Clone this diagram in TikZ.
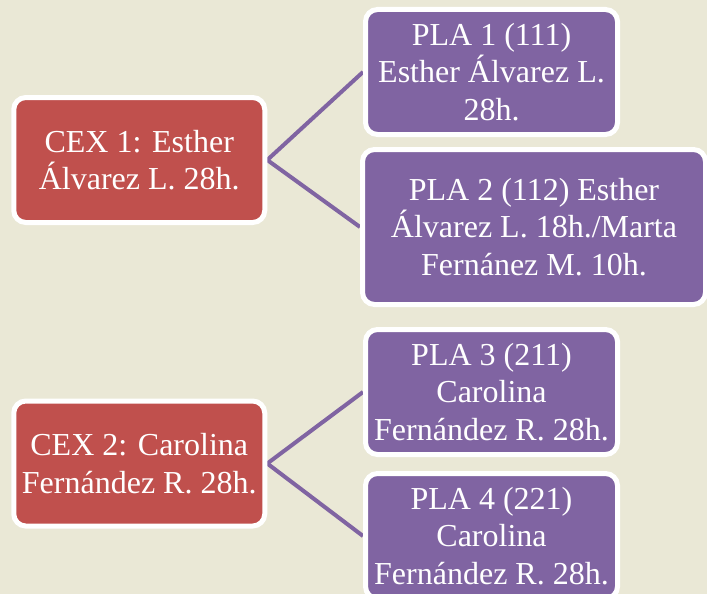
\documentclass[tikz,border=0pt]{standalone}
\usepackage{fontspec}
\setmainfont{Liberation Serif}
\usepackage{tikz}
\usetikzlibrary{positioning,backgrounds}

\definecolor{paper}{RGB}{234,232,214}
\definecolor{cexred}{RGB}{192,80,77}
\definecolor{plapurple}{RGB}{128,100,162}

\begin{document}
\begin{tikzpicture}[x=1pt,y=-1pt,
    box/.style={rectangle,rounded corners=12pt,draw=white,line width=5pt,
      text=white,align=center,inner sep=0pt,
      font=\fontsize{32}{37.5}\selectfont},
    cex node/.style={box,fill=cexred,minimum width=251pt,minimum height=125pt},
    pla node/.style={box,fill=plapurple,minimum width=252pt,minimum height=125pt},
    link/.style={plapurple,line width=4pt}]

  \useasboundingbox (0,0) rectangle (707,594);

  \node[cex node] (cex1) at (139.25,160) {CEX 1: Esther\\Álvarez L. 28h.};
  \node[pla node] (pla1) at (491.5,72) {PLA 1 (111)\\Esther Álvarez L.\\28h.};
  \node[pla node,minimum width=343pt,minimum height=155pt] (pla2) at (534,227)
    {PLA 2 (112) Esther\\Álvarez L. 18h./Marta\\Fernánez M. 10h.};

  \node[cex node] (cex2) at (139.25,463.5) {CEX 2: Carolina\\Fernández R. 28h.};
  \node[pla node] (pla3) at (491.5,392) {PLA 3 (211)\\Carolina\\Fernández R. 28h.};
  \node[pla node] (pla4) at (491.5,536) {PLA 4 (221)\\Carolina\\Fernández R. 28h.};

  % connectors go under the white borders
  \begin{scope}[on background layer]
    \fill[paper] (0,0) rectangle (707,594);
    \path[link]
          (cex1.east) edge (pla1.west)
          (cex1.east) edge (pla2.west)
          (cex2.east) edge (pla3.west)
          (cex2.east) edge (pla4.west);
  \end{scope}

\end{tikzpicture}
\end{document}
